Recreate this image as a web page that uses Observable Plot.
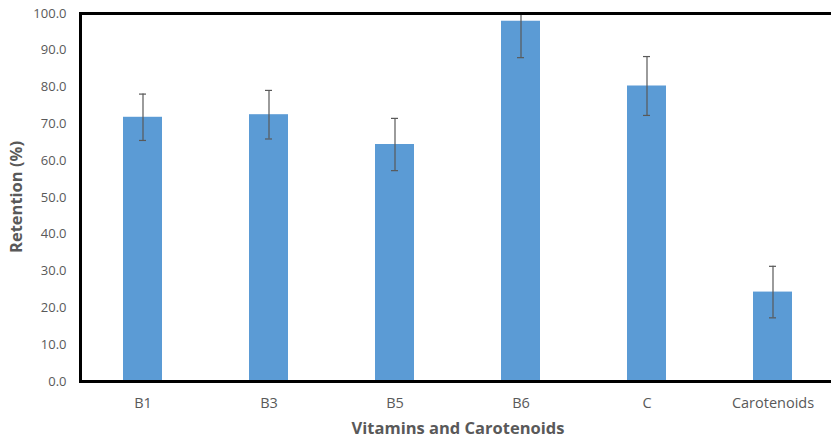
<!DOCTYPE html>
<html>
<head>
<meta charset="utf-8">
<script src="https://cdn.jsdelivr.net/npm/d3@7"></script>
<script src="https://cdn.jsdelivr.net/npm/@observablehq/plot@0.6"></script>
<style>
  html, body { margin: 0; padding: 0; background: #fff; overflow: hidden; width: 831px; height: 440px; }
  #chart { width: 831px; overflow: hidden; }
  #chart svg { display: block; max-width: none !important; }
</style>
</head>
<body>
<div id="chart"></div>
<script>
const categories = ["B1", "B3", "B5", "B6", "C", "Carotenoids"];
const retention = [71.8, 72.5, 64.4, 97.9, 80.3, 24.3];
const errors = [6.3, 6.6, 7.1, 9.9, 8.0, 7.0];
const yTicks = [0, 10, 20, 30, 40, 50, 60, 70, 80, 90, 100];

const data = categories.map((c, i) => ({
  cat: c, value: retention[i], lo: retention[i] - errors[i], hi: retention[i] + errors[i]
}));

const chart = Plot.plot({
  width: 836,
  height: 440,
  marginLeft: 80,
  marginRight: 0,
  marginTop: 13,
  marginBottom: 59,
  style: { fontFamily: "'Open Sans', sans-serif", fontSize: "13px", color: "#595959", background: "#fff", maxWidth: "none" },
  x: { domain: categories, paddingInner: 0.69, paddingOuter: 0.345, label: null },
  y: { domain: [0, 100], label: null },
  marks: [
    Plot.barY(data, { x: "cat", y: "value", fill: "#5B9BD5" }),
    Plot.ruleX(data, { x: "cat", y1: "lo", y2: "hi", stroke: "#595959", strokeWidth: 1.2, clip: "frame" }),
    Plot.tickY(data, { x: "cat", y: "lo", stroke: "#595959", strokeWidth: 1.2, insetLeft: 16, insetRight: 16, clip: "frame" }),
    Plot.tickY(data, { x: "cat", y: "hi", stroke: "#595959", strokeWidth: 1.2, insetLeft: 16, insetRight: 16, clip: "frame" }),
    Plot.frame({ stroke: "#000", strokeWidth: 3 }),
    Plot.axisY({ ticks: yTicks, tickSize: 0, tickPadding: 14, tickFormat: d => d.toFixed(1), fill: "#595959", fontSize: 13, label: null }),
    Plot.axisX({ tickSize: 0, tickPadding: 16, fill: "#595959", fontSize: 14.5, label: null })
  ]
});

const svg = d3.select(chart);
svg.append("text")
  .attr("transform", "translate(18,197) rotate(-90)")
  .attr("text-anchor", "middle")
  .attr("dominant-baseline", "middle")
  .attr("font-weight", "bold")
  .attr("font-size", 16.5)
  .attr("fill", "#595959")
  .text("Retention (%)");
svg.append("text")
  .attr("x", 458)
  .attr("y", 430)
  .attr("text-anchor", "middle")
  .attr("dominant-baseline", "middle")
  .attr("font-weight", "bold")
  .attr("font-size", 16.5)
  .attr("fill", "#595959")
  .text("Vitamins and Carotenoids");

document.getElementById("chart").appendChild(chart);
</script>
</body>
</html>
